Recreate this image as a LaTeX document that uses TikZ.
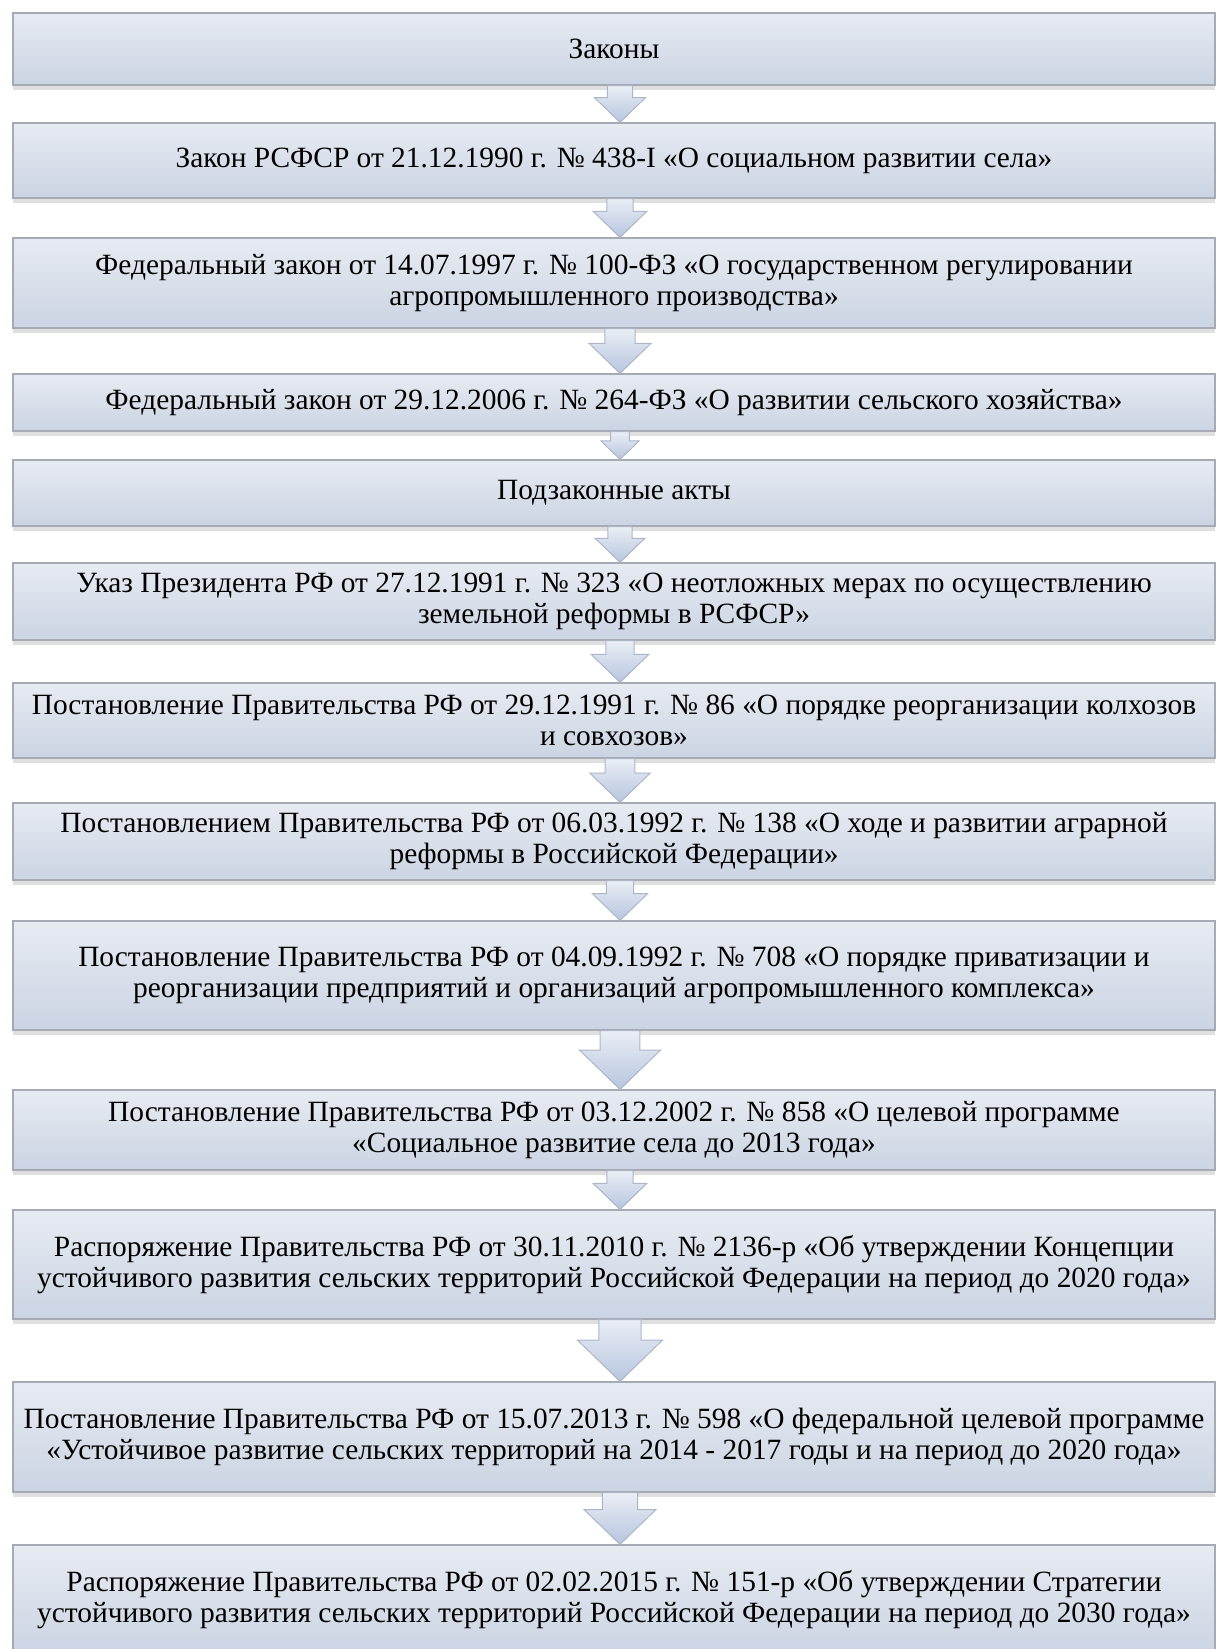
\documentclass[tikz,border=0pt]{standalone}
\usepackage{fontspec}
\setmainfont{Liberation Serif}
\usetikzlibrary{calc,shadows}
\definecolor{boxtop}{RGB}{231,235,242}
\definecolor{boxbot}{RGB}{203,212,227}
\definecolor{boxline}{RGB}{165,170,180}
\definecolor{arrtop}{RGB}{234,238,245}
\definecolor{arrbot}{RGB}{182,197,222}
\definecolor{arrline}{RGB}{172,182,200}
% block arrow filling the gap between two boxes
\newcommand{\blockarrow}[2]{%
  \path[arrowfill] let \p1=(#1.south), \p2=(#2.north), \n1={\y1-\y2} in
    ({\x1+3pt-0.34*\n1},\y1) -- ({\x1+3pt+0.34*\n1},\y1) -- ({\x1+3pt+0.34*\n1},{\y1-0.33*\n1})
    -- ({\x1+3pt+0.69*\n1},{\y1-0.33*\n1}) -- ({\x1+3pt},\y2) -- ({\x1+3pt-0.69*\n1},{\y1-0.33*\n1})
    -- ({\x1+3pt-0.34*\n1},{\y1-0.33*\n1}) -- cycle;}
\begin{document}
\begin{tikzpicture}[x=0.5pt,y=-0.5pt,
    lawbox/.style={draw=boxline,line width=0.6pt,top color=boxtop,bottom color=boxbot,
      minimum width=601pt,align=center,inner sep=0pt,
      font=\fontsize{14.7pt}{15.5pt}\selectfont,
      drop shadow={opacity=0.25,shadow xshift=0pt,shadow yshift=-2.5pt}},
    arrowfill/.style={draw=arrline,line width=0.5pt,top color=arrtop,bottom color=arrbot}]
  \useasboundingbox (0,0) rectangle (1217,1649);
  \clip (0,0) rectangle (1217,1649);
  % laws
  \node[lawbox,minimum height=36pt] (zakony) at (614,49) {Законы};
  \node[lawbox,minimum height=37.5pt] (z1990) at (614,160.5) {Закон РСФСР от 21.12.1990 г. № 438-I «О социальном развитии села»};
  \node[lawbox,minimum height=45pt] (fz1997) at (614,283) {Федеральный закон от 14.07.1997 г. № 100-ФЗ «О государственном регулировании\\агропромышленного производства»};
  \node[lawbox,minimum height=28.5pt] (fz2006) at (614,402.5) {Федеральный закон от 29.12.2006 г. № 264-ФЗ «О развитии сельского хозяйства»};
  % by-laws
  \node[lawbox,minimum height=33pt] (podz) at (614,493) {Подзаконные акты};
  \node[lawbox,minimum height=38.5pt] (ukaz1991) at (614,601.5) {Указ Президента РФ от 27.12.1991 г. № 323 «О неотложных мерах по осуществлению\\земельной реформы в РСФСР»};
  \node[lawbox,minimum height=37.5pt] (pp1991) at (614,720.5) {Постановление Правительства РФ от 29.12.1991 г. № 86 «О порядке реорганизации колхозов\\и совхозов»};
  \node[lawbox,minimum height=38.5pt] (pp1992a) at (614,841.5) {Постановлением Правительства РФ от 06.03.1992 г. № 138 «О ходе и развитии аграрной\\реформы в Российской Федерации»};
  \node[lawbox,minimum height=54.5pt] (pp1992b) at (614,975.5) {Постановление Правительства РФ от 04.09.1992 г. № 708 «О порядке приватизации и\\реорганизации предприятий и организаций агропромышленного комплекса»};
  \node[lawbox,minimum height=40pt] (pp2002) at (614,1130) {Постановление Правительства РФ от 03.12.2002 г. № 858 «О целевой программе\\«Социальное развитие села до 2013 года»};
  \node[lawbox,minimum height=54.5pt] (rp2010) at (614,1264.5) {Распоряжение Правительства РФ от 30.11.2010 г. № 2136-р «Об утверждении Концепции\\устойчивого развития сельских территорий Российской Федерации на период до 2020 года»};
  \node[lawbox,minimum height=55pt] (pp2013) at (614,1437) {Постановление Правительства РФ от 15.07.2013 г. № 598 «О федеральной целевой программе\\«Устойчивое развитие сельских территорий на 2014 - 2017 годы и на период до 2020 года»};
  \node[lawbox,minimum height=55pt] (rp2015) at (614,1600) {Распоряжение Правительства РФ от 02.02.2015 г. № 151-р «Об утверждении Стратегии\\устойчивого развития сельских территорий Российской Федерации на период до 2030 года»};
  \foreach \a/\b in {zakony/z1990,z1990/fz1997,fz1997/fz2006,fz2006/podz,podz/ukaz1991,
      ukaz1991/pp1991,pp1991/pp1992a,pp1992a/pp1992b,pp1992b/pp2002,pp2002/rp2010,
      rp2010/pp2013,pp2013/rp2015}
    \blockarrow{\a}{\b};
\end{tikzpicture}
\end{document}
